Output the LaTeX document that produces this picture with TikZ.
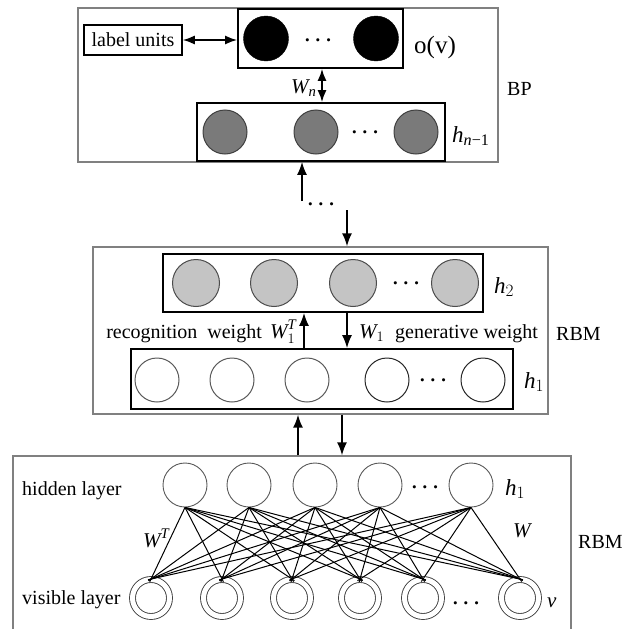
\documentclass[tikz,border=0pt]{standalone}
\usepackage{amsmath}
\usepackage{fontspec}
\setmainfont{Liberation Serif}
\usetikzlibrary{arrows.meta}

\tikzset{
  outerbox/.style={draw=black!50, line width=1.4pt, inner sep=0pt},
  layerbox/.style={draw=black, line width=1.8pt, inner sep=0pt},
  plainbox/.style={draw=black, line width=1.5pt, inner sep=0pt},
  blackunit/.style={circle, fill=black, draw=black, minimum size=45pt, inner sep=0pt},
  darkunit/.style={circle, fill=black!52, draw=black!75, line width=1pt, minimum size=44pt, inner sep=0pt},
  lightunit/.style={circle, fill=black!23, draw=black!70, line width=1pt, minimum size=47pt, inner sep=0pt},
  whiteunit/.style={circle, draw=black!65, line width=1pt, minimum size=44pt, inner sep=0pt},
  hidunit/.style={circle, draw=black!65, line width=0.9pt, minimum size=44pt, inner sep=0pt},
  visunit/.style={circle, draw=black!75, line width=0.9pt, double=white, double distance=5pt, minimum size=37pt, inner sep=0pt},
  flow/.style={line width=1.6pt, -{Latex[length=13pt,width=10pt]}},
  flowboth/.style={line width=1.6pt, {Latex[length=12pt,width=9pt]}-{Latex[length=12pt,width=9pt]}},
  conn/.style={line width=1pt, shorten >=-3pt},
  txt/.style={inner sep=0pt, font=\fontsize{20}{24}\selectfont},
  hlab/.style={inner sep=0pt, font=\fontsize{23}{26}\selectfont, anchor=base west},
  wlab/.style={inner sep=0pt, font=\fontsize{21}{24}\selectfont, anchor=base west},
  ellip/.style={inner sep=0pt, font=\fontsize{22}{26}\selectfont\boldmath, anchor=base, yshift=-5.5pt},
}

\begin{document}
\begin{tikzpicture}[x=1pt, y=-1pt]
\useasboundingbox (0,0) rectangle (622,629);

% ---------------- BP block ----------------
\node[outerbox, minimum width=420pt, minimum height=154pt] (bp) at (288,85) {};
\node[plainbox, minimum width=98pt, minimum height=30pt, txt] (lu) at (133,40) {label units};
\node[layerbox, minimum width=165pt, minimum height=59pt] (ov) at (320.5,38.5) {};
\node[blackunit] (o1) at (266,38.5) {};
\node[blackunit] (o2) at (376,38.5) {};
\node[ellip] (od) at (320,40) {$\cdots$};
\node[inner sep=0pt, font=\fontsize{25}{28}\selectfont, anchor=base west] (ovl) at (414,53) {o(v)};

\node[layerbox, minimum width=248pt, minimum height=58pt] (hn1) at (321,132) {};
\node[darkunit] (n1) at (225,132) {};
\node[darkunit] (n2) at (316,132) {};
\node[darkunit] (n3) at (416,132) {};
\node[ellip] (nd) at (367,132) {$\cdots$};
\node[hlab] (hn1l) at (452,142) {$\textit{h}_{\text{\textit{n}−1}}$};

\node[txt, anchor=base west] (bpl) at (507,95) {BP};
\node[wlab] (wnl) at (291,93) {$\textit{W}_{\textit{n}}$};

\draw[flowboth] (lu.east) -- (lu.east -| ov.west);
\coordinate (wn) at (322,0);
\draw[flowboth] (wn |- ov.south) -- (wn |- hn1.north);

% ---------------- upper RBM block ----------------
\node[outerbox, minimum width=455pt, minimum height=167pt] (rbm2) at (320.5,330.5) {};
\node[layerbox, minimum width=320pt, minimum height=58pt] (h2) at (323,283) {};
\node[lightunit] (g1) at (196,283) {};
\node[lightunit] (g2) at (274,283) {};
\node[lightunit] (g3) at (353,283) {};
\node[lightunit] (g4) at (455,283) {};
\node[ellip] (gdots) at (408,283) {$\cdots$};
\node[hlab] (h2l) at (494,293) {$\textit{h}_{2}$};

\node[layerbox, minimum width=382pt, minimum height=60pt] (h1) at (322,379) {};
\node[whiteunit] (w1) at (157,380) {};
\node[whiteunit] (w2) at (232,380) {};
\node[whiteunit] (w3) at (307,380) {};
\node[whiteunit, draw=black!85] (w4) at (387,380) {};
\node[whiteunit, draw=black!85] (w5) at (483,380) {};
\node[ellip] (wdots) at (435,380) {$\cdots$};
\node[hlab] (h1l) at (524,388) {$\textit{h}_{1}$};

\coordinate (u2) at (304,0);
\coordinate (d2) at (347,0);
\draw[flow] (u2 |- h1.north) -- (u2 |- h2.south);
\draw[flow] (d2 |- h2.south) -- (d2 |- h1.north);

\node[txt, anchor=base east] (rec) at (262,338) {recognition\ \ weight};
\node[wlab] (w1t) at (270,338) {$\textit{W}_{1}^{\textit{T}}$};
\node[wlab] (w1l) at (359,338) {$\textit{W}_{1}$};
\node[txt, anchor=base west] (gen) at (395,338) {generative weight};
\node[txt, anchor=base west] (rbm2l) at (556,340) {RBM};

% ---------------- links between BP and RBM ----------------
\coordinate (u1) at (302,201);
\coordinate (d1) at (347,210);
\draw[flow] (u1) -- (u1 |- hn1.south);
\node[ellip] (gd) at (323,204) {$\cdots$};
\draw[flow] (d1) -- (d1 |- rbm2.north);

% ---------------- lower RBM block ----------------
\node[outerbox, minimum width=558pt, minimum height=184pt] (rbm1) at (292,548) {};

\coordinate (u3) at (298,0);
\coordinate (d3) at (342,0);
\draw[flow] (u3 |- rbm1.north) -- (u3 |- rbm2.south);
\draw[flow] (d3 |- rbm2.south) -- (d3 |- rbm1.north);

\foreach \n/\x in {1/185,2/249,3/315,4/380,5/471}
  \node[hidunit] (hd\n) at (\x,485) {};
\foreach \n/\x in {1/151,2/222,3/292,4/360,5/423,6/520}
  \node[visunit] (vs\n) at (\x,598) {};
\node[ellip] (hdots) at (427,487) {$\cdots$};
\node[ellip] (vdots) at (468,603) {$\cdots$};

\foreach \i in {1,...,5}
  \foreach \j in {1,...,6}
    \draw[conn] (hd\i.south) -- (vs\j.north);

\node[txt, anchor=base west] (hidl) at (22,495) {hidden layer};
\node[txt, anchor=base west] (visl) at (22,604) {visible layer};
\node[hlab] (hb1l) at (505,495) {$\textit{h}_{1}$};
\node[wlab] (wtl) at (143,547) {$\textit{W}^{\textit{T}}$};
\node[wlab] (wl) at (513,537) {$\textit{W}$};
\node[wlab] (vl) at (547,607) {$\textit{v}$};
\node[txt, anchor=base west] (rbm1l) at (578,548) {RBM};
\end{tikzpicture}
\end{document}
